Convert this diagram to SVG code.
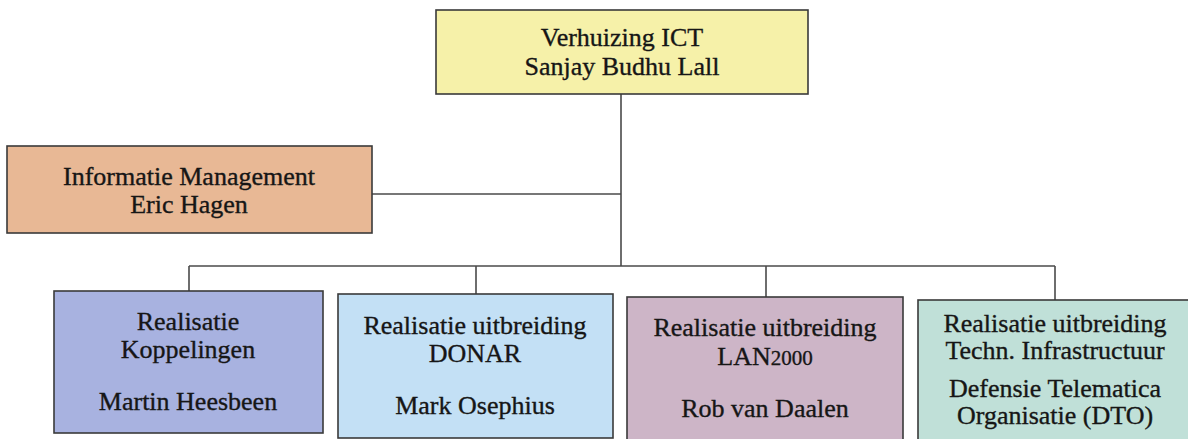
<svg xmlns="http://www.w3.org/2000/svg" width="1188" height="439" viewBox="0 0 1188 439">
<style>
.box{stroke:#3a3a3a;stroke-width:1.6}
.t{font-family:"Liberation Serif","DejaVu Serif",serif;font-size:26px;fill:#161616;stroke:#161616;stroke-width:0.35;text-anchor:middle}
.ln{stroke:#4a4a4a;stroke-width:1.6;fill:none}
</style>
<rect width="1188" height="439" fill="#ffffff"/>
<g id="connectors">
<path class="ln" d="M621,94 V266"/>
<path class="ln" d="M372,194 H621"/>
<path class="ln" d="M189,266 H1055"/>
<path class="ln" d="M189,266 V291"/>
<path class="ln" d="M476,266 V294"/>
<path class="ln" d="M766,266 V297"/>
<path class="ln" d="M1055,266 V300"/>
</g>
<g id="verhuizing">
<rect class="box" x="436" y="10" width="372" height="84" fill="#f6f1a9"/>
<text class="t" x="622" y="46">Verhuizing ICT</text>
<text class="t" x="622" y="75">Sanjay Budhu Lall</text>
</g>
<g id="informatie">
<rect class="box" x="7" y="146" width="365" height="87" fill="#e8b895"/>
<text class="t" x="189" y="185">Informatie Management</text>
<text class="t" x="189" y="213">Eric Hagen</text>
</g>
<g id="koppelingen">
<rect class="box" x="54" y="291" width="269" height="142" fill="#a8b2e0"/>
<text class="t" x="188" y="330">Realisatie</text>
<text class="t" x="188" y="358">Koppelingen</text>
<text class="t" x="188" y="410">Martin Heesbeen</text>
</g>
<g id="donar">
<rect class="box" x="338" y="294" width="275" height="144" fill="#c3e0f5"/>
<text class="t" x="475" y="334">Realisatie uitbreiding</text>
<text class="t" x="475" y="362">DONAR</text>
<text class="t" x="475" y="414">Mark Osephius</text>
</g>
<g id="lan2000">
<rect class="box" x="627" y="297" width="276" height="150" fill="#cdb5c7"/>
<text class="t" x="765" y="336">Realisatie uitbreiding</text>
<text class="t" x="765" y="365">LAN<tspan font-size="21">2000</tspan></text>
<text class="t" x="765" y="417">Rob van Daalen</text>
</g>
<g id="dto">
<rect class="box" x="918" y="300" width="285" height="150" fill="#c0e0d8"/>
<text class="t" x="1055" y="332">Realisatie uitbreiding</text>
<text class="t" x="1055" y="359">Techn. Infrastructuur</text>
<text class="t" x="1055" y="397">Defensie Telematica</text>
<text class="t" x="1055" y="424">Organisatie (DTO)</text>
</g>
</svg>
